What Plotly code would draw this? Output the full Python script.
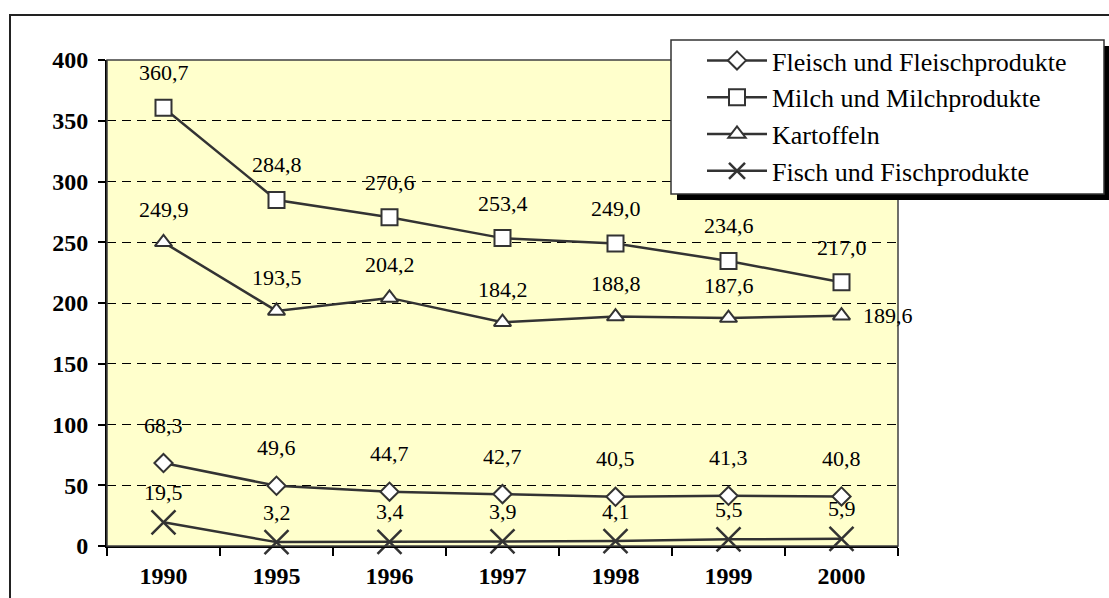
import plotly.graph_objects as go

years = ["1990", "1995", "1996", "1997", "1998", "1999", "2000"]
fleisch = [68.3, 49.6, 44.7, 42.7, 40.5, 41.3, 40.8]
milch = [360.7, 284.8, 270.6, 253.4, 249.0, 234.6, 217.0]
kartoffeln = [249.9, 193.5, 204.2, 184.2, 188.8, 187.6, 189.6]
fisch = [19.5, 3.2, 3.4, 3.9, 4.1, 5.5, 5.9]

series = [
    ("Fleisch und Fleischprodukte", fleisch, "diamond", 14, 38),
    ("Milch und Milchprodukte", milch, "square", 16, 35),
    ("Kartoffeln", kartoffeln, "triangle-up", 15, 33),
    ("Fisch und Fischprodukte", fisch, "x-thin", 24, 30),
]

W, H = 1109, 598
L, R, T, B = 107, 898, 60, 546
pw, ph = R - L, B - T
def px(x): return (x - L) / pw
def py(y): return (B - y) / ph

LINE = "#333333"
FONT = "Liberation Serif"

fig = go.Figure()
for i, (name, vals, sym, size, shift) in enumerate(series):
    mk = dict(symbol=sym, size=size, color="white", line=dict(color=LINE, width=2))
    if sym == "x-thin":
        mk = dict(symbol=sym, size=size, color=LINE, line=dict(color=LINE, width=2.5))
    fig.add_trace(go.Scatter(
        x=years, y=vals, name=name, mode="lines+markers",
        line=dict(color=LINE, width=2.5), marker=mk,
        legendgroup=f"g{i}", cliponaxis=False,
    ))

for i, (name, vals, sym, size, shift) in enumerate(series):
    for j, (yr, v) in enumerate(zip(years, vals)):
        txt = f"{v:.1f}".replace(".", ",")
        if name == "Kartoffeln" and j == len(years) - 1:
            fig.add_annotation(x=j, y=v, text=txt, showarrow=False,
                               xanchor="left", yanchor="middle", xshift=19,
                               font=dict(family=FONT, size=22, color="black"))
        else:
            fig.add_annotation(x=j, y=v, text=txt, showarrow=False,
                               xanchor="center", yanchor="middle", yshift=shift,
                               font=dict(family=FONT, size=22, color="black"))

# outer chart border
fig.add_shape(type="rect", xref="paper", yref="paper", x0=px(10), x1=px(1120), y0=py(15), y1=py(615),
              line=dict(color="#222222", width=2), layer="below")
# plot area frame
fig.add_shape(type="rect", xref="paper", yref="paper", x0=0, x1=1, y0=0, y1=1,
              line=dict(color="#404040", width=1.5), layer="above")
# legend shadow and box
fig.add_shape(type="rect", xref="paper", yref="paper", x0=px(677), x1=px(1111), y0=py(46), y1=py(200),
              line=dict(width=0), fillcolor="black", layer="above")
fig.add_shape(type="rect", xref="paper", yref="paper", x0=px(671), x1=px(1104), y0=py(40), y1=py(194),
              line=dict(color="#333333", width=1.5), fillcolor="white", layer="above")

fig.update_layout(
    width=W, height=H,
    margin=dict(l=L, r=W - R, t=T, b=H - B, autoexpand=False),
    paper_bgcolor="white", plot_bgcolor="#FFFFCC",
    font=dict(family=FONT, color="black"),
    showlegend=True,
    legend=dict(x=px(702), y=py(37), xanchor="left", yanchor="top",
                bgcolor="rgba(0,0,0,0)", borderwidth=0,
                font=dict(family=FONT, size=26, color="black"),
                tracegroupgap=6.5, itemwidth=60, traceorder="normal"),
)
fig.update_xaxes(type="category", range=[-0.5, 6.5], showgrid=False, automargin=False,
                 showline=True, linecolor="black", linewidth=2,
                 ticks="outside", tickson="boundaries", ticklen=8, tickwidth=2, tickcolor="black",
                 tickfont=dict(family=FONT, size=24, color="black", weight="bold"),
                 ticklabelstandoff=7)
fig.update_yaxes(range=[0, 400], dtick=50, showgrid=True, gridcolor="black", gridwidth=1,
                 griddash="9px,6px", zeroline=False, automargin=False,
                 showline=True, linecolor="black", linewidth=2,
                 ticks="outside", ticklen=7, tickwidth=2, tickcolor="black",
                 tickfont=dict(family=FONT, size=24, color="black", weight="bold"),
                 ticklabelstandoff=5)

fig.write_html("out.html", config={"displayModeBar": False},
               post_script="document.body.style.margin='0';")
